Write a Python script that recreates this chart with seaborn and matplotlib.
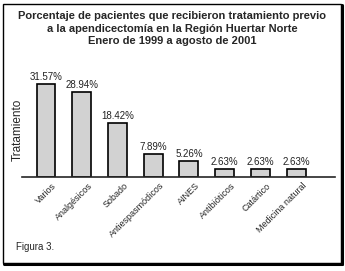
import matplotlib
matplotlib.use("Agg")
import matplotlib.pyplot as plt
import matplotlib.transforms as mtransforms
import seaborn as sns
import pandas as pd
from matplotlib.patches import Rectangle
from matplotlib.lines import Line2D

# Data
tratamientos = ["Varios", "Analgésicos", "Sobado", "Antiespasmódicos", "AINES",
                "Antibióticos", "Catártico", "Medicina natural"]
porcentajes = [31.57, 28.94, 18.42, 7.89, 5.26, 2.63, 2.63, 2.63]
etiquetas = ["31.57%", "28.94%", "18.42%", "7.89%", "5.26%", "2.63%", "2.63%", "2.63%"]

titulo = ("Porcentaje de pacientes que recibieron tratamiento previo\n"
          "a la apendicectomía en la Región Huertar Norte\n"
          "Enero de 1999 a agosto de 2001")

sns.set_style("white")
plt.rcParams["font.family"] = ["Liberation Sans", "DejaVu Sans"]

df = pd.DataFrame({"tratamiento": tratamientos, "pct": porcentajes})

fig = plt.figure(figsize=(3.45, 2.71), dpi=100)
ax = fig.add_axes([0.064, 0.347, 0.907, 0.38])

sns.barplot(data=df, x="tratamiento", y="pct", ax=ax, color="#d2d2d2",
            edgecolor="black", linewidth=1.2, width=0.53, saturation=1)

for i, (v, t) in enumerate(zip(porcentajes, etiquetas)):
    ax.text(i, v + 0.7, t, ha="center", va="bottom", fontsize=7, color="#222222")

ax.set_ylim(0, 35)
ax.set_xlim(-0.67, 8.09)
ax.set_yticks([])
ax.set_xlabel("")
ax.set_ylabel("")
for s in ["top", "right", "left"]:
    ax.spines[s].set_visible(False)
ax.spines["bottom"].set_linewidth(1.2)
ax.tick_params(axis="x", length=0, pad=3)
ax.set_xticks(range(len(tratamientos)))
ax.set_xticklabels(tratamientos, rotation=45, ha="right", rotation_mode="anchor",
                   fontsize=6.5)
# shift tick labels a little to the right, like the original
shift = mtransforms.ScaledTranslation(6 / 100, 0, fig.dpi_scale_trans)
for lbl in ax.get_xticklabels():
    lbl.set_transform(lbl.get_transform() + shift)

fig.text(0.052, 0.52, "Tratamiento", rotation=90, ha="center", va="center",
         fontsize=8.5)

fig.text(0.5, 0.96, titulo, ha="center", va="top", fontsize=8, fontweight="bold",
         linespacing=1.35)
fig.text(0.045, 0.09, "Figura 3.", ha="left", va="center", fontsize=7)

# frame with shadow on right/bottom
fig.add_artist(Rectangle((0.010, 0.030), 0.978, 0.955, transform=fig.transFigure,
                         fill=False, edgecolor="black", linewidth=1))
fig.add_artist(Line2D([0.012, 0.992], [0.027, 0.027], transform=fig.transFigure,
                      color="black", linewidth=2.2))
fig.add_artist(Line2D([0.990, 0.990], [0.027, 0.98], transform=fig.transFigure,
                      color="black", linewidth=2.2))

fig.savefig("out.png", dpi=100)
